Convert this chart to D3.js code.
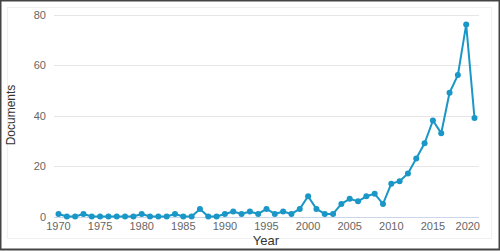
<!DOCTYPE html>
<html>
<head>
<meta charset="utf-8">
<script src="https://cdn.jsdelivr.net/npm/d3@7"></script>
<style>
  html, body { margin: 0; padding: 0; background: #fff; }
  svg { display: block; font-family: "Liberation Sans", Arial, sans-serif; }
</style>
</head>
<body>
<svg id="chart" width="500" height="251"></svg>
<script>
const years = d3.range(1970, 2021);
const documents = [
  1, 0, 0, 1, 0, 0, 0, 0, 0, 0,
  1, 0, 0, 0, 1, 0, 0, 3, 0, 0,
  1, 2, 1, 2, 1, 3, 1, 2, 1, 3,
  8, 3, 1, 1, 5, 7, 6, 8, 9, 5,
  13, 14, 17, 23, 29, 38, 33, 49, 56, 76,
  39
];
const xTicks = [1970, 1975, 1980, 1985, 1990, 1995, 2000, 2005, 2010, 2015, 2020];
const yTicks = [0, 20, 40, 60, 80];

const data = years.map((y, i) => ({ year: y, value: documents[i] }));

const svg = d3.select("#chart");
const W = 500, H = 251;

// outer frame
svg.append("rect")
  .attr("x", 0.5).attr("y", 0.5)
  .attr("width", W - 1).attr("height", H - 2)
  .attr("fill", "#fff")
  .attr("stroke", "#444").attr("stroke-width", 2);

// inner panel
svg.append("rect")
  .attr("x", 7.5).attr("y", 7.5)
  .attr("width", 484).attr("height", 231)
  .attr("fill", "#fff")
  .attr("stroke", "#f0f0f0");

const margin = { left: 54, right: 21, top: 15, bottom: 35 };
const x = d3.scaleLinear().domain([1970, 2020]).range([58.5, 474.5]);
const y = d3.scaleLinear().domain([0, 80]).range([216.5, 14.5]);
const plotRight = 479;

// grid lines
svg.append("g")
  .selectAll("line")
  .data(yTicks.filter(d => d > 0))
  .join("line")
  .attr("x1", margin.left).attr("x2", plotRight)
  .attr("y1", d => Math.round(y(d)) + 0.5).attr("y2", d => Math.round(y(d)) + 0.5)
  .attr("stroke", "#e6e6e6");

// x axis line
svg.append("line")
  .attr("x1", margin.left).attr("x2", plotRight)
  .attr("y1", Math.round(y(0)) + 0.5).attr("y2", Math.round(y(0)) + 0.5)
  .attr("stroke", "#ccd6eb");

// y tick labels
svg.append("g")
  .selectAll("text")
  .data(yTicks)
  .join("text")
  .attr("x", 46)
  .attr("y", d => y(d) + 4)
  .attr("text-anchor", "end")
  .attr("font-size", 11)
  .attr("fill", "#666")
  .text(d => d);

// x tick labels
svg.append("g")
  .selectAll("text")
  .data(xTicks)
  .join("text")
  .attr("x", d => d === 2020 ? plotRight + 1 : x(d))
  .attr("y", 230)
  .attr("text-anchor", d => d === 2020 ? "end" : "middle")
  .attr("font-size", 11)
  .attr("fill", "#666")
  .text(d => d);

// axis titles
svg.append("text")
  .attr("x", 266).attr("y", 245)
  .attr("text-anchor", "middle")
  .attr("font-size", 13)
  .attr("fill", "#333")
  .text("Year");

svg.append("text")
  .attr("transform", "translate(15,115) rotate(-90)")
  .attr("text-anchor", "middle")
  .attr("font-size", 12)
  .attr("fill", "#333")
  .text("Documents");

// line + markers
const color = "#1a97c6";
const line = d3.line().x(d => x(d.year)).y(d => y(d.value));

svg.append("path")
  .datum(data)
  .attr("d", line)
  .attr("fill", "none")
  .attr("stroke", color)
  .attr("stroke-width", 2)
  .attr("stroke-linejoin", "round");

svg.append("g")
  .selectAll("circle")
  .data(data)
  .join("circle")
  .attr("cx", d => x(d.year))
  .attr("cy", d => y(d.value))
  .attr("r", 3)
  .attr("fill", color);
</script>
</body>
</html>
